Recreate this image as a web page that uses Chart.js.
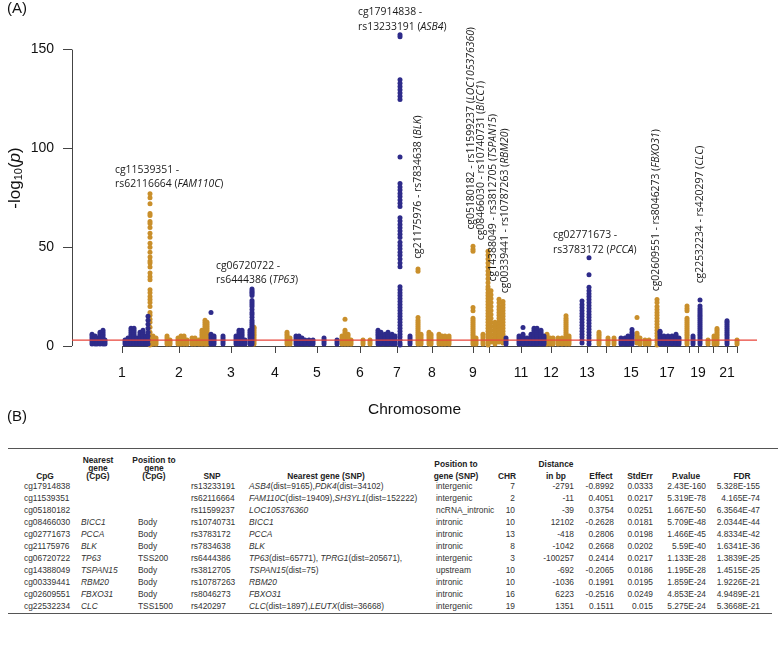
<!DOCTYPE html>
<html>
<head>
<meta charset="utf-8">
<script src="https://cdn.jsdelivr.net/npm/chart.js@4.4.0/dist/chart.umd.min.js"></script>
<style>
  body { margin: 0; background: #fff; width: 778px; height: 649px; position: relative; overflow: hidden;
         font-family: "Liberation Sans", Arial, sans-serif; color: #111; }
  #plotWrap { position: absolute; left: 0; top: 0; width: 778px; height: 430px; }
  .panelTag { position: absolute; font-size: 15px; line-height: 15px; }
  .cell { position: absolute; white-space: nowrap; font-size: 8.4px; line-height: 8px; color: #333; }
  .hd { font-weight: bold; color: #222; }
  .rule { position: absolute; height: 0; border-top: 1px solid #555; }
</style>
</head>
<body>
<div id="plotWrap"><canvas id="manhattan" width="778" height="430"></canvas></div>
<div class="panelTag" style="left:7px;top:0px;">(A)</div>
<div class="panelTag" style="left:7px;top:408px;">(B)</div>
<div id="tableBox"></div>
<script>
// ---- Manhattan plot data (x = cumulative genome position, arbitrary units) ----
const chrTickPos = [50, 107, 159, 203, 245, 288, 325, 360, 401, 417, 449, 479, 515, 534, 559, 575, 595, 617, 626, 641, 655, 665];
const chrTickLabels = ['1', '2', '3', '4', '5', '6', '7', '8', '9', '', '11', '12', '13', '', '15', '', '17', '', '19', '', '21', ''];
const yTicks = [0, 50, 100, 150];
const sigLevel = 3;

// [position, -log10(p) values of the dots in that column]
const navyColumns = [
  [20, [1, 2, 3, 4, 5, 6]], [23, [1, 2, 3, 4, 5]], [25, [1, 2, 3, 4]], [28, [1, 2, 3, 4, 5, 6, 7]],
  [31, [1, 2, 3, 4, 5, 6, 7, 8]], [33, [1, 2, 3]],
  [53, [1, 2, 3]], [56, [1, 2, 3, 4]], [59, [1, 2, 3, 4, 5, 6, 7, 8, 9]], [62, [1, 2, 3, 4, 5, 6, 7, 8, 9]],
  [65, [1, 2, 3, 4]], [68, [1, 2, 3, 4, 5, 6, 7]], [71, [1, 2, 3, 4, 5, 6, 7, 8]], [74, [1, 2, 3, 4, 5]],
  [76, [1, 3, 5, 7, 9, 11, 13, 15]],
  [139, [1, 2, 3, 4, 5, 6, 17]], [142, [1, 2, 3, 4, 5]], [151, [1, 2, 3, 4, 5]],
  [164, [1, 2, 3, 4, 5]], [167, [1, 2, 3, 4, 5, 6, 7, 8]], [170, [1, 2, 3, 4, 5, 6, 7, 8]], [173, [1, 2, 3]],
  [178, [1, 2, 3, 4, 5, 6, 7, 8]],
  [180, [28.8, 28, 27.2, 26.4, 25.5, 23, 22, 21, 20, 18.5, 17, 16, 14.5, 13, 12, 11, 10, 9, 8, 7, 6, 5, 4, 3, 2, 1]],
  [224, [1, 2, 3, 4, 5]], [227, [1, 2, 3, 4, 5]], [230, [1, 2, 3, 4]], [233, [1, 2, 3]], [237, [1, 2, 3]], [241, [1, 2, 3]],
  [252, [1, 2, 3, 4]], [265, [1, 2, 3]],
  [306, [1, 2, 3, 4, 5, 6, 7, 8]], [309, [1, 2, 3, 4, 5, 6, 7]], [313, [1, 2, 3, 4, 5, 6]], [316, [1, 2, 3, 4, 5, 6, 7]],
  [320, [1, 2, 3, 4, 5, 6]], [323, [1, 2, 3, 4, 5]],
  [328, [157.5, 156.5, 134.7, 133, 131.3, 129.7, 128, 126.4, 124.8, 95.7, 82.2, 80.5, 78.9, 77.2, 75.6, 73.9, 72.3, 70.6,
         64.9, 63.2, 61.5, 59.9, 58.2, 56.6, 54.9, 52.5, 50.8, 49.2, 47.5, 45.9, 44, 42, 40.1, 30, 28.5, 27, 25.5, 24,
         22.5, 21, 19.5, 18, 16.5, 15, 13.5, 12, 10.5, 9, 7.5, 6, 4.5, 3, 1.5, 0.5]],
  [338, [1, 2, 3, 4, 5]], [434, [1, 2, 3, 4]],
  [447, [1, 2, 3, 4, 5]], [451, [1, 2, 3, 4, 5, 6, 9.4]], [455, [1, 2, 3, 4]], [459, [1, 2, 3, 4, 5, 6]],
  [462, [1, 2, 3, 4, 5, 6, 7, 8, 9]], [465, [1, 2, 3, 4, 5, 6, 7, 8, 9]], [469, [1, 2, 3, 4, 5, 6, 7, 8]], [472, [1, 2, 3, 4, 5]],
  [510, [22.8, 21, 19.5, 18, 16.5, 15, 13.5, 12, 10.5, 9, 7.5, 6, 4.5, 3, 1.5]],
  [517, [44.6, 36, 29.7, 28, 26.5, 25, 23.5, 22, 20.5, 19, 17.5, 16, 14.5, 13, 11.5, 10, 8.5, 7, 5.5, 4, 2.5, 1]],
  [549, [1, 2, 3, 4]], [553, [1, 2, 3, 4]], [556, [1, 2, 3, 4, 5]], [560, [1, 2, 3, 4, 5, 6, 7, 8.4]],
  [588, [1, 2, 3, 4, 5, 6, 7, 7.5]], [592, [1, 2, 3, 4, 5]], [596, [1, 2, 3, 4, 5]], [600, [1, 2, 3, 4, 5]],
  [604, [1, 2, 3, 4, 5, 6]], [607, [1, 2, 3, 4]], [621, [1, 2, 3, 4, 5]],
  [628, [23.3, 20.3, 19, 18, 17, 16, 15, 14, 13, 12, 11, 10, 9, 8, 7, 6, 5, 4, 3, 2, 1]],
  [655, [1, 2, 3, 4, 5, 6, 7, 8, 9, 10, 11, 12, 12.8]]
];

const goldColumns = [
  [78, [77, 75, 72, 67, 66, 63, 62, 60, 57, 55, 52, 50, 47.5, 45, 43, 42, 40, 37, 35, 33.5, 28.5, 27, 25, 23.5, 22, 20,
        17, 15.5, 13.5, 12, 9.5, 7, 5.5, 4, 2, 0.5]],
  [81, [1, 2, 3, 4, 5]], [84, [1, 2, 3, 4]], [95, [1, 2, 3, 4, 5]], [98, [1, 2, 3]],
  [106, [1, 2, 3, 4]], [109, [1, 2, 3, 4, 5]], [112, [1, 2, 3, 4, 5]], [115, [1, 2, 3]],
  [120, [1, 2, 3, 4]], [123, [1, 2, 3, 4]], [127, [1, 2, 3]], [130, [1, 2, 3, 4, 5, 6, 7, 8]],
  [133, [1, 2, 3, 4, 5, 6, 7, 8, 9, 10, 11, 12, 13]], [135, [1, 2, 3, 4, 5, 6, 7, 8, 9, 10, 11, 12]],
  [182, [1, 2, 3, 4, 5, 6, 7, 8, 9, 9.5]], [215, [1, 2, 3, 4, 5, 6, 7]], [218, [1, 2, 3, 4]],
  [270, [1, 2, 3, 4, 5]], [273, [1, 2, 3, 4, 5, 6, 7, 8, 13.5]], [276, [1, 2, 3, 4, 5, 6]], [279, [1, 2, 3]],
  [291, [1, 2, 3]], [298, [1, 2, 3]],
  [346, [39, 37.8, 14.4, 13, 12, 11, 10, 9, 8, 7, 6, 5, 4, 3, 2, 1]], [349, [1, 2, 3, 4, 5, 6]],
  [357, [1, 2, 3, 4, 5, 6, 7]], [359, [1, 2, 3, 4, 5, 6]], [367, [1, 2, 3, 4, 5, 6]], [370, [1, 2, 3, 4, 5]],
  [373, [1, 2, 3, 4, 5]], [377, [1, 2, 3, 4, 5]],
  [401, [50.5, 49, 48, 19.5, 17.8, 14, 13, 12, 11, 10, 9, 8, 7, 6, 5, 4, 3, 2, 1]], [404, [1, 2, 3, 4]],
  [411, [1, 2, 3, 4, 5, 6]],
  [416, [48, 46, 44, 42, 40, 38, 36, 34, 32, 30, 28.7, 27, 25.5, 24, 22.5, 21, 19.5, 18, 16.5, 15, 13.5, 12, 10.5, 9,
         7.5, 6, 4.5, 3, 1.5, 0.5]],
  [419, [28, 26, 24, 22, 20, 18, 16, 14, 12, 10, 8, 6, 4, 2]],
  [423, [1, 2, 3, 4, 5, 6, 7, 8, 9, 10, 11, 12]],
  [427, [23.6, 21.9, 20, 18.5, 17, 15.5, 14, 12.5, 11, 9.5, 8, 6.5, 5, 3.5, 2]],
  [431, [22.5, 21, 19.5, 18, 16.5, 15, 13.5, 12, 10.5, 9, 7.5, 6, 4.5, 3, 1.5]],
  [475, [1, 2, 3, 4, 5, 6]], [478, [1, 2, 3, 4]], [481, [1, 2, 3, 4]], [486, [1, 2, 3, 4]], [490, [1, 2, 3, 4]],
  [494, [1, 2, 3, 4, 5, 6, 7, 8, 9, 10, 11, 12, 13, 14, 15.3]], [497, [1, 2, 3, 4, 5]],
  [527, [1, 2, 3, 4, 5, 6, 7]], [536, [1, 2, 3, 4]], [542, [1, 2, 3, 4]],
  [565, [14.4, 6.5, 5.5, 4.5, 3.5, 2.5, 1.5]], [568, [1, 2, 3, 4]], [573, [1, 2, 3]], [577, [1, 2, 3]],
  [585, [23.5, 22, 20, 18.5, 17, 15.5, 14, 12.5, 11, 9.5, 8, 6.5, 5, 3.5, 2, 0.5]],
  [615, [20.3, 19, 17.8, 14, 13, 12, 11, 10, 9, 8, 7, 6, 5, 4, 3, 2, 1]],
  [636, [1, 2, 3]], [642, [1, 2, 3, 4, 5]], [645, [1, 2, 3, 4, 5, 6, 7, 8, 8.8]], [665, [1, 2, 3]]
];

// peak annotations: _text_ is italic
const peakLabels = [
  { x: 286, y: 168.8, vertical: false, lines: ['cg17914838 -', 'rs13233191 (_ASB4_)'] },
  { x: 43, y: 89.1, vertical: false, lines: ['cg11539351 -', 'rs62116664 (_FAM110C_)'] },
  { x: 144, y: 40.6, vertical: false, lines: ['cg06720722 -', 'rs6444386 (_TP63_)'] },
  { x: 481, y: 55.9, vertical: false, lines: ['cg02771673 -', 'rs3783172 (_PCCA_)'] },
  { x: 346, y: 44.1, vertical: true, lines: ['cg21175976 - rs7834638 (_BLK_)'] },
  { x: 399, y: 58.9, vertical: true, lines: ['cg05180182 - rs11599237 (_LOC105376360_)'] },
  { x: 409, y: 53.5, vertical: true, lines: ['cg08466030 - rs10740731 (_BICC1_)'] },
  { x: 421, y: 32.7, vertical: true, lines: ['cg14388049 - rs3812705 (_TSPAN15_)'] },
  { x: 433, y: 26.7, vertical: true, lines: ['cg00339441 - rs10787263 (_RBM20_)'] },
  { x: 584, y: 27.7, vertical: true, lines: ['cg02609551 - rs8046273 (_FBXO31_)'] },
  { x: 628, y: 31.7, vertical: true, lines: ['cg22532234 - rs420297 (_CLC_)'] }
];

// ---- table data ----
const tableCpG = ['cg17914838', 'cg11539351', 'cg05180182', 'cg08466030', 'cg02771673', 'cg21175976', 'cg06720722', 'cg14388049', 'cg00339441', 'cg02609551', 'cg22532234'];
const tableCpGGene = ['', '', '', 'BICC1', 'PCCA', 'BLK', 'TP63', 'TSPAN15', 'RBM20', 'FBXO31', 'CLC'];
const tableCpGPos = ['', '', '', 'Body', 'Body', 'Body', 'TSS200', 'Body', 'Body', 'Body', 'TSS1500'];
const tableSNP = ['rs13233191', 'rs62116664', 'rs11599237', 'rs10740731', 'rs3783172', 'rs7834638', 'rs6444386', 'rs3812705', 'rs10787263', 'rs8046273', 'rs420297'];
const tableSNPGene = ['ASB4(dist=9165),PDK4(dist=34102)', 'FAM110C(dist=19409),SH3YL1(dist=152222)', 'LOC105376360', 'BICC1', 'PCCA', 'BLK',
  'TP63(dist=65771), TPRG1(dist=205671),', 'TSPAN15(dist=75)', 'RBM20', 'FBXO31', 'CLC(dist=1897),LEUTX(dist=36668)'];
const tableSNPPos = ['intergenic', 'intergenic', 'ncRNA_intronic', 'intronic', 'intronic', 'intronic', 'intergenic', 'upstream', 'intronic', 'intronic', 'intergenic'];
const tableCHR = ['7', '2', '10', '10', '13', '8', '3', '10', '10', '16', '19'];
const tableDist = ['-2791', '-11', '-39', '12102', '-418', '-1042', '-100257', '-692', '-1036', '6223', '1351'];
const tableEffect = ['-0.8992', '0.4051', '0.3754', '-0.2628', '0.2806', '0.2668', '0.2414', '-0.2065', '0.1991', '-0.2516', '0.1511'];
const tableStdErr = ['0.0333', '0.0217', '0.0251', '0.0181', '0.0198', '0.0202', '0.0217', '0.0186', '0.0195', '0.0249', '0.015'];
const tablePValue = ['2.43E-160', '5.319E-78', '1.667E-50', '5.709E-48', '1.466E-45', '5.59E-40', '1.133E-28', '1.195E-28', '1.859E-24', '4.853E-24', '5.275E-24'];
const tableFDR = ['5.328E-155', '4.165E-74', '6.3564E-47', '2.0344E-44', '4.8334E-42', '1.6341E-36', '1.3839E-25', '1.4515E-25', '1.9226E-21', '4.9489E-21', '5.3668E-21'];
const tableHeaders = [['CpG'], ['Nearest', 'gene', '(CpG)'], ['Position to', 'gene', '(CpG)'], ['SNP'], ['Nearest gene (SNP)'],
  ['Position to', 'gene (SNP)'], ['CHR'], ['Distance', 'in bp'], ['Effect'], ['StdErr'], ['P.value'], ['FDR']];

const NAVY = '#2e2b8a';
const GOLD = '#c98f2b';

function toPoints(columns) {
  let pts = [];
  columns.forEach(col => col[1].forEach(v => pts.push({ x: col[0], y: v })));
  return pts;
}

function drawRich(ctx, text, x0, y0, size) {
  let x = x0;
  text.split('_').forEach((part, i) => {
    if (!part) return;
    ctx.font = (i % 2 ? 'italic ' : '') + size + 'px "Open Sans"';
    ctx.fillText(part, x, y0);
    x += ctx.measureText(part).width;
  });
}

const axesPlugin = {
  id: 'rAxes',
  beforeDatasetsDraw(chart) {
    const { ctx, chartArea, scales: { x, y } } = chart;
    ctx.save();
    ctx.strokeStyle = '#444';
    ctx.lineWidth = 1;
    ctx.beginPath();
    ctx.moveTo(chartArea.left + 0.5, y.getPixelForValue(yTicks[0]));
    ctx.lineTo(chartArea.left + 0.5, y.getPixelForValue(yTicks[yTicks.length - 1]));
    ctx.moveTo(x.getPixelForValue(chrTickPos[0]), chartArea.bottom + 0.5);
    ctx.lineTo(x.getPixelForValue(chrTickPos[chrTickPos.length - 1]), chartArea.bottom + 0.5);
    ctx.stroke();

    // y axis title: -log10(p)
    ctx.translate(15, 178);
    ctx.rotate(-Math.PI / 2);
    ctx.fillStyle = '#111';
    ctx.textBaseline = 'middle';
    const parts = [['-log', '17px "Liberation Sans"', 0], ['10', '11px "Liberation Sans"', 4], ['(', '17px "Liberation Sans"', 0],
      ['p', 'italic 17px "Liberation Sans"', 0], [')', '17px "Liberation Sans"', 0]];
    let total = 0;
    parts.forEach(p => { ctx.font = p[1]; total += ctx.measureText(p[0]).width; });
    let cx = -total / 2;
    parts.forEach(p => { ctx.font = p[1]; ctx.fillText(p[0], cx, p[2]); cx += ctx.measureText(p[0]).width; });
    ctx.restore();
  },
  afterDatasetsDraw(chart) {
    const { ctx, scales: { x, y } } = chart;
    ctx.save();
    ctx.fillStyle = '#1a1a1a';
    ctx.textBaseline = 'middle';
    ctx.textAlign = 'left';
    peakLabels.forEach(lab => {
      ctx.save();
      ctx.translate(x.getPixelForValue(lab.x), y.getPixelForValue(lab.y));
      if (lab.vertical) ctx.rotate(-Math.PI / 2);
      lab.lines.forEach((line, i) => drawRich(ctx, line, 0, i * 14.5, 10.4));
      ctx.restore();
    });
    ctx.restore();
  }
};

new Chart(document.getElementById('manhattan'), {
  type: 'scatter',
  data: {
    datasets: [
      {
        type: 'line',
        data: [{ x: 0, y: sigLevel }, { x: 685, y: sigLevel }],
        borderColor: '#e8443a',
        borderWidth: 1.3,
        pointRadius: 0,
        clip: false,
      },
      {
        data: toPoints(navyColumns),
        backgroundColor: NAVY,
        borderWidth: 0,
        pointRadius: 2.5,
        clip: false,
      },
      {
        data: toPoints(goldColumns),
        backgroundColor: GOLD,
        borderWidth: 0,
        pointRadius: 2.5,
        clip: false,
      },
    ],
  },
  options: {
    responsive: false,
    animation: false,
    devicePixelRatio: 1,
    events: [],
    layout: { padding: { top: 10, right: 21, left: 0, bottom: 0 } },
    plugins: { legend: { display: false }, tooltip: { enabled: false } },
    scales: {
      x: {
        type: 'linear',
        min: 0,
        max: 685,
        afterBuildTicks: scale => { scale.ticks = chrTickPos.map(v => ({ value: v })); },
        afterFit: scale => { scale.height = 84; },
        ticks: {
          autoSkip: false,
          maxRotation: 0,
          padding: 12,
          color: '#111',
          font: { family: 'Liberation Sans', size: 14 },
          callback: (v, i) => chrTickLabels[i],
        },
        grid: { drawOnChartArea: false, drawTicks: true, tickLength: 7, color: '#444' },
        border: { display: false },
        title: {
          display: true,
          text: 'Chromosome',
          color: '#111',
          font: { family: 'Liberation Sans', size: 15.5 },
          padding: { top: 0, bottom: 11 },
        },
      },
      y: {
        min: 0,
        max: 166.3,
        afterBuildTicks: scale => { scale.ticks = yTicks.map(v => ({ value: v })); },
        afterFit: scale => { scale.width = 72; },
        ticks: {
          padding: 9,
          color: '#111',
          font: { family: 'Liberation Sans', size: 14 },
        },
        grid: { drawOnChartArea: false, drawTicks: true, tickLength: 9, color: '#444' },
        border: { display: false },
      },
    },
  },
  plugins: [axesPlugin],
});

// ---- table (B) ----
const tableColumns = [tableCpG, tableCpGGene, tableCpGPos, tableSNP, tableSNPGene, tableSNPPos,
  tableCHR, tableDist, tableEffect, tableStdErr, tablePValue, tableFDR];
const colAnchor = [['l', 24], ['l', 81], ['l', 138], ['l', 191], ['l', 249], ['l', 436],
  ['r', 515], ['r', 574], ['r', 614], ['r', 653], ['r', 706], ['r', 760]];
const headCenter = [45, 98, 154, 212, 326, 456, 507, 556, 601, 640, 686, 742];
const italicCols = [1];

const box = document.getElementById('tableBox');
function addRule(y, x0, x1) {
  const d = document.createElement('div');
  d.className = 'rule';
  d.style.top = y + 'px';
  d.style.left = x0 + 'px';
  d.style.width = (x1 - x0) + 'px';
  box.appendChild(d);
}
function geneHtml(s) {
  return s.split(',').map(p => {
    const k = p.indexOf('(');
    return k < 0 ? '<i>' + p + '</i>' : '<i>' + p.slice(0, k) + '</i>' + p.slice(k);
  }).join(',');
}
addRule(448, 8, 778);
addRule(613, 8, 772);

tableHeaders.forEach((lines, c) => {
  lines.forEach((txt, k) => {
    const d = document.createElement('div');
    d.className = 'cell hd';
    const gap = lines.length === 3 ? 8 : 12;
    const yc = 476 - (lines.length - 1 - k) * gap;
    d.style.top = (yc - 4) + 'px';
    d.style.left = (headCenter[c] - 60) + 'px';
    d.style.width = '120px';
    d.style.textAlign = 'center';
    d.textContent = txt;
    box.appendChild(d);
  });
});

tableCpG.forEach((_, r) => {
  const yc = 486 + r * 12;
  tableColumns.forEach((col, c) => {
    const d = document.createElement('div');
    d.className = 'cell';
    d.style.top = (yc - 4) + 'px';
    if (colAnchor[c][0] === 'l') d.style.left = colAnchor[c][1] + 'px';
    else d.style.right = (778 - colAnchor[c][1]) + 'px';
    const v = col[r];
    if (c === 4) d.innerHTML = geneHtml(v);
    else if (italicCols.includes(c)) d.innerHTML = '<i>' + v + '</i>';
    else d.textContent = v;
    box.appendChild(d);
  });
});
</script>
</body>
</html>
